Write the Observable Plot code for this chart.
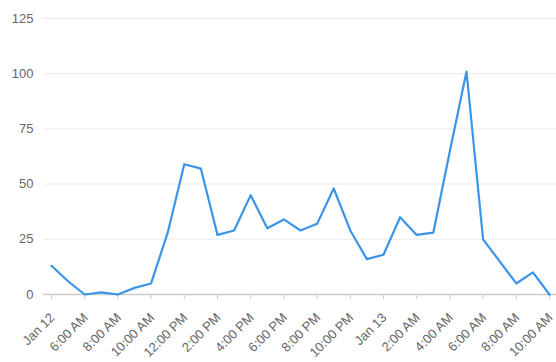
<!DOCTYPE html>
<html>
<head>
<meta charset="utf-8">
<script src="https://cdn.jsdelivr.net/npm/d3@7"></script>
<script src="https://cdn.jsdelivr.net/npm/@observablehq/plot@0.6"></script>
<style>
  html, body { margin: 0; padding: 0; background: #fff; }
  #chart { width: 556px; height: 362px; }
</style>
</head>
<body>
<div id="chart"></div>
<script>
// Hourly values, Jan 12 4:00 AM through Jan 13 10:00 AM
const startTime = "2020-01-12T04:00:00";
const values = [13, 6, 0, 1, 0, 3, 5, 28, 59, 57, 27, 29, 45, 30, 34, 29, 32, 48, 29, 16, 18, 35, 27, 28, 65, 101, 25, 15, 5, 10, 0];
const tickLabels = ["Jan 12", "6:00 AM", "8:00 AM", "10:00 AM", "12:00 PM", "2:00 PM", "4:00 PM", "6:00 PM", "8:00 PM", "10:00 PM", "Jan 13", "2:00 AM", "4:00 AM", "6:00 AM", "8:00 AM", "10:00 AM"];
const yTicks = [0, 25, 50, 75, 100, 125];

const t0 = new Date(startTime);
const data = values.map((v, i) => ({ time: d3.timeHour.offset(t0, i), value: v }));
const xTicks = tickLabels.map((_, i) => d3.timeHour.offset(t0, 2 * i));

const chart = Plot.plot({
  width: 556,
  height: 362,
  marginTop: 18,
  marginBottom: 68,
  marginLeft: 43,
  marginRight: 0,
  style: { fontFamily: "Arial, 'Liberation Sans', sans-serif", fontSize: "13px", color: "#666", background: "#fff", overflow: "visible" },
  x: {
    type: "time",
    domain: [data[0].time, data[data.length - 1].time],
    insetLeft: 8,
    insetRight: 7,
    label: null
  },
  y: {
    domain: [0, 125],
    label: null
  },
  marks: [
    Plot.ruleY(yTicks.filter(d => d > 0), { stroke: "#ebebeb", strokeWidth: 1 }),
    Plot.ruleY([0], { stroke: "#ccc", strokeWidth: 1.5 }),
    Plot.axisX({ ticks: xTicks, tickFormat: () => "", tickSize: 5, stroke: "#ccc", label: null }),
    Plot.axisX({ ticks: xTicks, tickFormat: (d, i) => tickLabels[i], tickRotate: -45, tickSize: 0, tickPadding: 21, dx: 1, fill: "#666", label: null, stroke: "none" }),
    Plot.axisY({ ticks: yTicks, tickSize: 0, tickPadding: 10, fill: "#666", label: null }),
    Plot.line(data, { x: "time", y: "value", stroke: "#3a95e8", strokeWidth: 2.2 })
  ]
});
document.getElementById("chart").appendChild(chart);
</script>
</body>
</html>
